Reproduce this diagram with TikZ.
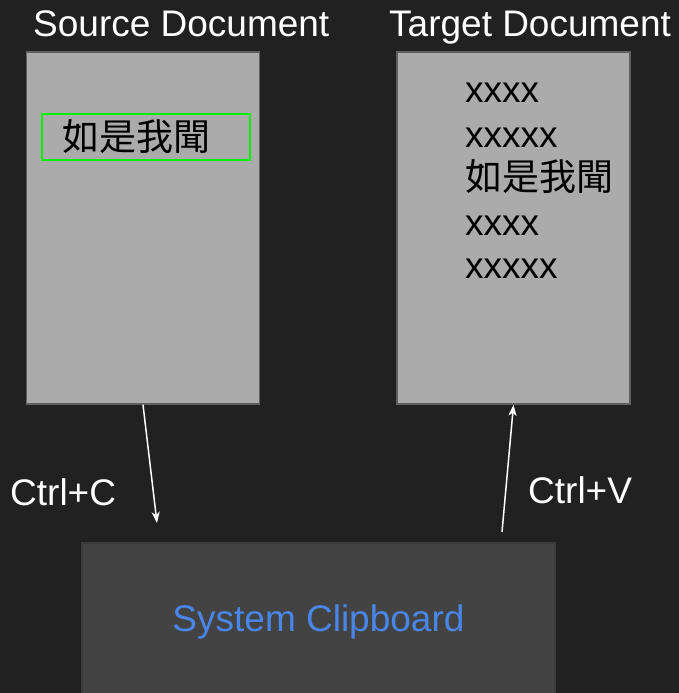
\documentclass[tikz,border=0pt]{standalone}
\usepackage{fontspec}
\setmainfont{Liberation Sans}
\newfontfamily\cjkfont{Noto Sans CJK TC}
\usetikzlibrary{arrows.meta}
\definecolor{bgdark}{HTML}{212121}
\definecolor{docgray}{HTML}{ABABAB}
\definecolor{docedge}{HTML}{5F5F5F}
\definecolor{clipgray}{HTML}{434343}
\definecolor{clipedge}{HTML}{3A3A3A}
\definecolor{selgreen}{HTML}{00F000}
\definecolor{clipblue}{HTML}{4A86E8}

\begin{document}
\begin{tikzpicture}[x=1pt, y=-1pt,
		bigtext/.style={font=\fontsize{37}{44}\selectfont, inner sep=0pt},
		cjktext/.style={font=\fontsize{37}{44}\selectfont\cjkfont, inner sep=0pt, text=black},
		docbox/.style={draw=docedge, fill=docgray, line width=1.5pt, minimum width=233pt, minimum height=352pt, inner sep=0pt},
		flow/.style={draw=white, line width=1.5pt, -{Stealth[length=11pt, width=8pt, inset=3pt]}}]
			\clip (0,0) rectangle (679,693);
			\fill[bgdark] (0,0) rectangle (679,693);
			% documents
			\node[docbox] (src) at (143,228) {};
			\node[docbox] (tgt) at (513.5,228) {};
			\node[bigtext, text=white, anchor=base west] (srctitle) at (33,37) {Source Document};
			\node[bigtext, text=white, anchor=base west] (tgttitle) at (389,37) {Target Document};
			% selected text
			\node[draw=selgreen, line width=2pt, minimum width=208pt, minimum height=46pt, inner sep=0pt] (sel) at (146,137) {};
			\node[cjktext, anchor=west] (srcquote) at (62,137) {如是我聞};
			% pasted text
			\node[bigtext, anchor=base west] (line1) at (465,102) {xxxx};
			\node[bigtext, anchor=base west] (line2) at (465,147) {xxxxx};
			\node[cjktext, anchor=west] (tgtquote) at (465,177) {如是我聞};
			\node[bigtext, anchor=base west] (line4) at (465,235) {xxxx};
			\node[bigtext, anchor=base west] (line5) at (465,278) {xxxxx};
			% clipboard
			\node[draw=clipedge, fill=clipgray, line width=1.5pt, minimum width=473pt, minimum height=157pt, inner sep=0pt, bigtext, text=clipblue] (clip) at (318.5,621.5) {System Clipboard};
			\coordinate (copyend) at (157,523);
			\coordinate (pastestart) at (502,532);
			\draw[flow] (src.south) -- (copyend);
			\draw[flow] (pastestart) -- (tgt.south);
			\node[bigtext, text=white, anchor=base west] (copykey) at (10,505) {Ctrl+C};
			\node[bigtext, text=white, anchor=base west] (pastekey) at (528,503) {Ctrl+V};
		\end{tikzpicture}
\end{document}
